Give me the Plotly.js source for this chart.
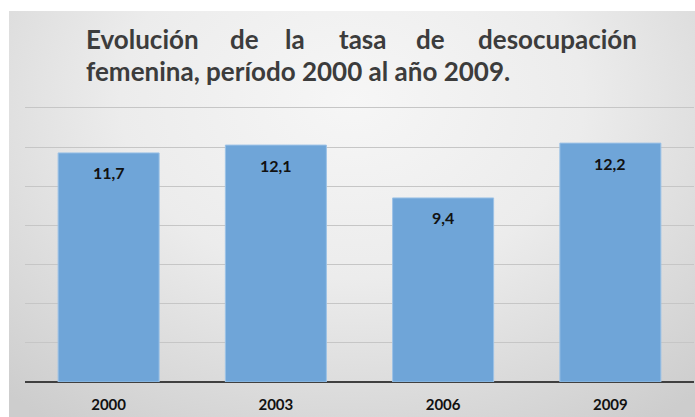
<!DOCTYPE html>
<html>
<head>
<meta charset="utf-8">
<script src="https://cdn.plot.ly/plotly-3.0.1.min.js"></script>
<style>html,body{margin:0;padding:0;background:#fff;}#chart{width:695px;height:417px;}</style>
</head>
<body>
<div id="chart"></div>
<script>
// Data
const years = ['2000', '2003', '2006', '2009'];
const rates = [11.7, 12.1, 9.4, 12.2];
const rateLabels = ['11,7', '12,1', '9,4', '12,2'];
const titleLine1Words = ['Evolución', 'de', 'la', 'tasa', 'de', 'desocupación'];
const titleLine2 = 'femenina, período 2000 al año 2009.';

const W = 695, H = 417;
const M = {l: 25, r: 1, t: 102, b: 35};
const pw = W - M.l - M.r, ph = H - M.t - M.b;
// convert pixel to paper coords
const px = x => (x - M.l) / pw;
const py = y => (H - M.b - y) / ph;

const svg = '<svg xmlns="http://www.w3.org/2000/svg" width="686" height="406" preserveAspectRatio="none">' +
  '<defs><radialGradient id="g" cx="0.5" cy="0.22" r="0.75" fx="0.5" fy="0.22" gradientTransform="translate(0.5 0.22) scale(1 1.3) translate(-0.5 -0.22)">' +
  '<stop offset="0" stop-color="#f6f6f6"/><stop offset="0.45" stop-color="#ececec"/><stop offset="1" stop-color="#cdcdcd"/></radialGradient></defs>' +
  '<rect width="686" height="406" fill="url(#g)"/></svg>';
const bgUri = 'data:image/svg+xml;base64,' + btoa(svg);

const titleFont = {family: 'Lato, sans-serif', size: 26, color: '#3c3c3c', weight: 700};
const wordX = [84, 228, 283, 337, 414, 476];
const annotations = [];
titleLine1Words.forEach((w, i) => {
  annotations.push({text: '<b>' + w + '</b>', xref: 'paper', yref: 'paper', x: px(wordX[i]), y: py(50),
    xanchor: 'left', yanchor: 'bottom', yshift: -7, showarrow: false, font: titleFont});
});
annotations.push({text: '<b>' + titleLine2 + '</b>', xref: 'paper', yref: 'paper', x: px(84), y: py(82),
  xanchor: 'left', yanchor: 'bottom', yshift: -7, showarrow: false, font: titleFont});
years.forEach((y, i) => {
  annotations.push({text: '<b>' + rateLabels[i] + '</b>', x: i, y: rates[i], xref: 'x', yref: 'y',
    yanchor: 'middle', yshift: -20, showarrow: false,
    font: {family: 'Lato, sans-serif', size: 16, color: '#111'}});
});

const trace = {
  type: 'bar', x: years, y: rates,
  marker: {color: '#6fa5d8', line: {color: '#9cc2e6', width: 1}},
  hoverinfo: 'skip'
};

const layout = {
  width: W, height: H,
  margin: M,
  paper_bgcolor: '#ffffff',
  plot_bgcolor: 'rgba(0,0,0,0)',
  bargap: 0.396,
  showlegend: false,
  xaxis: {type: 'category', range: [-0.5, years.length - 0.5], showgrid: false, showline: false, zeroline: false, ticks: '',
    ticklabelstandoff: 12,
    tickfont: {family: 'Lato, sans-serif', size: 15, color: '#111', weight: 700}},
  yaxis: {range: [0, 14.3], tickvals: [0, 2, 4, 6, 8, 10, 12, 14], showticklabels: false, showgrid: true, gridcolor: '#c6c6c6', gridwidth: 1,
    zeroline: true, zerolinecolor: '#404040', zerolinewidth: 2, showline: false, fixedrange: true},
  images: [{source: bgUri, xref: 'paper', yref: 'paper', x: px(9), y: py(11), sizex: (W - 9) / pw, sizey: (H - 11) / ph,
    xanchor: 'left', yanchor: 'top', sizing: 'stretch', layer: 'below'}],
  annotations: annotations
};

Plotly.newPlot('chart', [trace], layout, {displayModeBar: false, staticPlot: true});
</script>
</body>
</html>
